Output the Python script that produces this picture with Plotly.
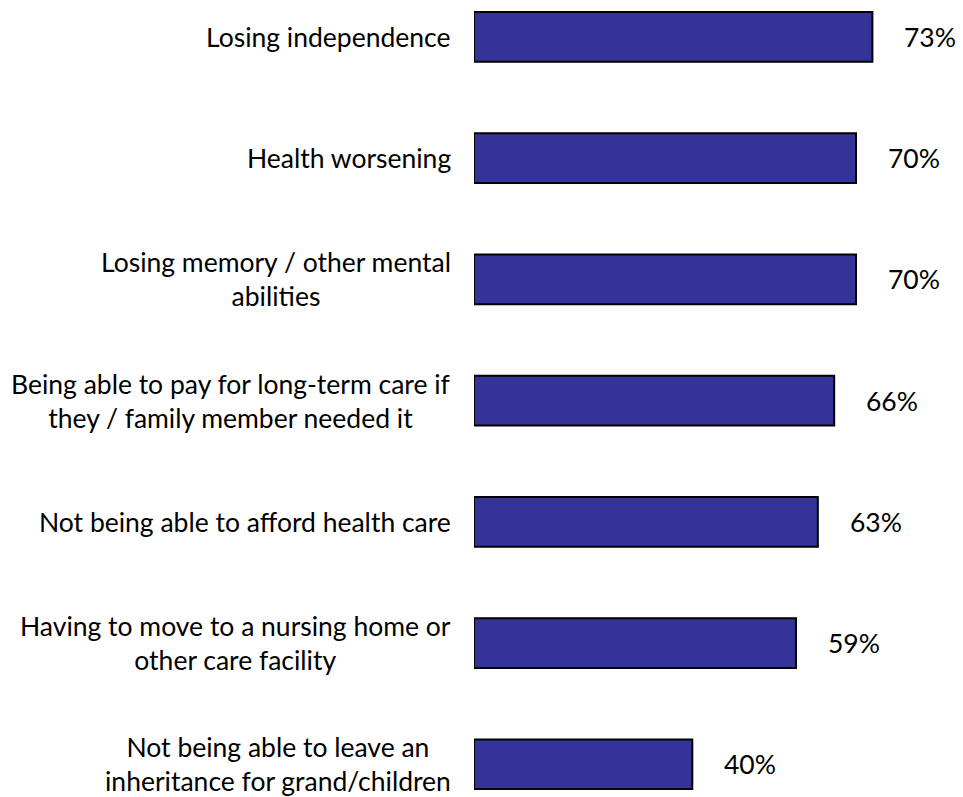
import plotly.graph_objects as go

categories = [
    "Losing independence",
    "Health worsening",
    "Losing memory / other mental<br>abilities",
    "Being able to pay for long-term care if<br>they / family member needed it",
    "Not being able to afford health care",
    "Having to move to a nursing home or<br>other care facility",
    "Not being able to leave an<br>inheritance for grand/children",
]
values = [73, 70, 70, 66, 63, 59, 40]
value_labels = ["73%", "70%", "70%", "66%", "63%", "59%", "40%"]

FONT = "Lato"
positions = list(range(len(categories)))

fig = go.Figure()
fig.add_trace(go.Bar(
    x=values,
    y=positions,
    orientation="h",
    width=0.41,
    marker=dict(color="#333399", line=dict(color="#000000", width=2)),
    hoverinfo="skip",
))

annotations = []
for i, (cat, v, lab) in enumerate(zip(categories, values, value_labels)):
    annotations.append(dict(
        x=0, y=i, xref="x", yref="y", text=cat, showarrow=False,
        xanchor="right", yanchor="middle", align="center", xshift=-21,
        font=dict(family=FONT, size=26.5, color="#000000"),
    ))
    annotations.append(dict(
        x=v, y=i, xref="x", yref="y", text=lab, showarrow=False,
        xanchor="left", yanchor="middle", xshift=30,
        font=dict(family=FONT, size=26.5, color="#000000"),
    ))

fig.update_layout(
    width=963, height=797,
    margin=dict(l=474, r=0, t=0, b=0),
    paper_bgcolor="white", plot_bgcolor="white",
    showlegend=False,
    annotations=annotations,
    xaxis=dict(range=[0, 89.6], visible=False, fixedrange=True),
    yaxis=dict(range=[6.27, -0.305], visible=False, fixedrange=True),
)

fig.write_html("out.html")
